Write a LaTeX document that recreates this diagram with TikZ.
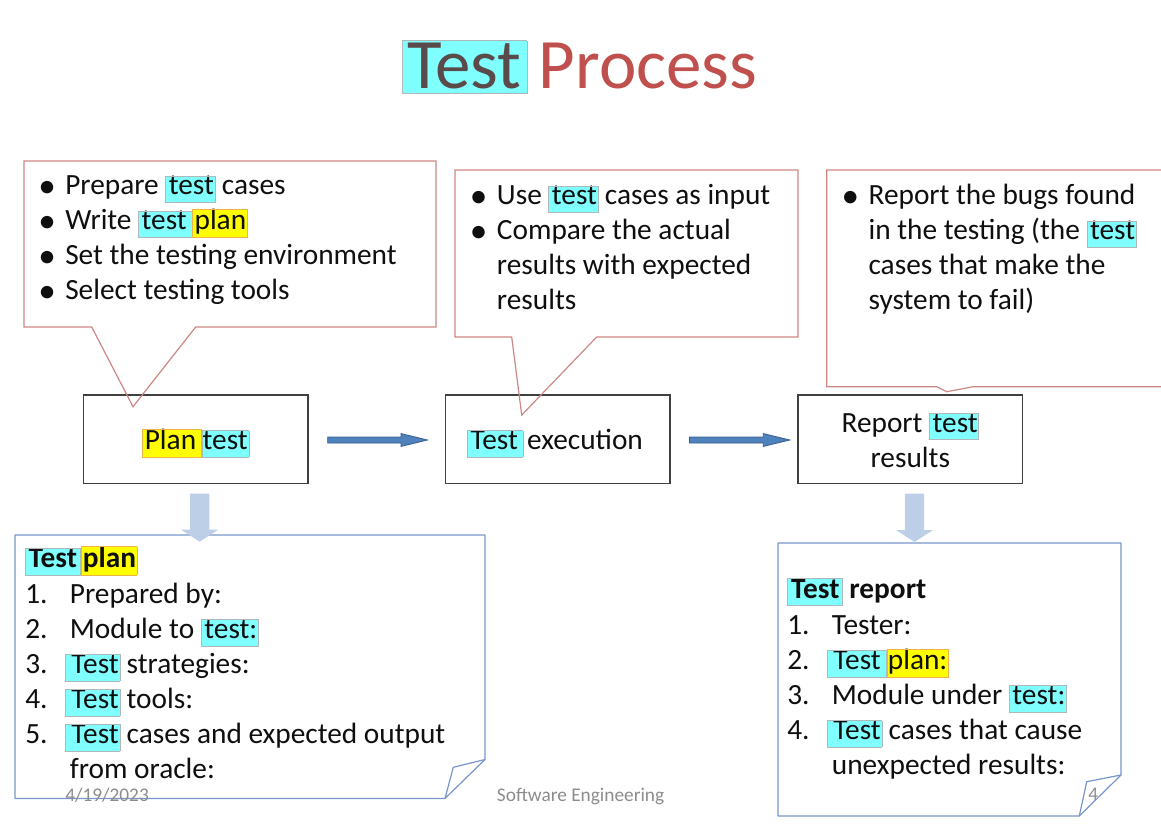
\documentclass[tikz,border=0pt]{standalone}
\usepackage{fontspec}
\setmainfont{Carlito}
\usetikzlibrary{calc}

\definecolor{hlcyan}{RGB}{128,255,255}
\definecolor{hlcyanrule}{RGB}{175,185,185}
\definecolor{hlyellow}{RGB}{255,255,0}
\definecolor{hlyellowrule}{RGB}{240,180,70}
\definecolor{calloutline}{RGB}{205,135,130}
\definecolor{noteline}{RGB}{120,150,205}
\definecolor{boxline}{RGB}{64,64,64}
\definecolor{flowblue}{RGB}{79,129,189}
\definecolor{flowbluedark}{RGB}{56,93,138}
\definecolor{downblue}{RGB}{188,207,230}
\definecolor{titlered}{RGB}{192,80,77}
\definecolor{titledark}{RGB}{90,74,74}
\definecolor{footgray}{RGB}{140,140,140}
\definecolor{bodytext}{RGB}{15,15,15}

% highlighted words
\newcommand\hlstrut{\rule[-0.25em]{0pt}{0.89em}}
\newcommand\hc[2][2.2pt]{{\setlength\fboxsep{0pt}\setlength\fboxrule{0.4pt}%
  \fcolorbox{hlcyanrule}{hlcyan}{\hspace{#1}\hlstrut#2\hspace{0.6pt}}}}
\newcommand\hy[2][1.5pt]{{\setlength\fboxsep{0pt}\setlength\fboxrule{0.4pt}%
  \fcolorbox{hlyellowrule}{hlyellow}{\hspace{#1}\hlstrut#2\hspace{0.6pt}}}}

% list lines
\newcommand\bulletmark{\smash{\raisebox{-1.6pt}{\scalebox{1.2}{\textbullet}}}}
\newcommand\bitem[1]{\par\noindent\hangindent=20.25pt\hangafter=1%
  \makebox[20.25pt][l]{\bulletmark}#1\par}
\newcommand\nitem[2]{\par\noindent\hangindent=33.5pt\hangafter=1%
  \makebox[33.5pt][l]{#1}#2\par}
\newcommand\bodysize{\fontsize{22pt}{26.25pt}\selectfont}

\begin{document}
\begin{tikzpicture}[x=0.75pt,y=-0.75pt,
  body/.style={font=\bodysize, inner sep=0pt, text=bodytext},
  callout/.style={draw=calloutline, line width=0.9pt, line join=miter},
  procbox/.style={draw=boxline, line width=1pt, minimum width=168.5pt,
    minimum height=66.4pt, inner sep=0pt},
  note/.style={draw=noteline, line width=0.9pt, line join=round},
  flowarrow/.style={fill=flowblue, draw=flowbluedark, line width=0.6pt},
  downarrow/.style={fill=downblue},
  foot/.style={font=\fontsize{14.5pt}{17pt}\selectfont, text=footgray,
    inner sep=0pt, anchor=base west}]

\useasboundingbox (0,0) rectangle (1161,827);

% title
\node[anchor=base west, inner sep=0pt, font=\fontsize{53.2pt}{62pt}\selectfont]
  (title) at (402,88.3)
  {{\renewcommand\hlstrut{\rule[-0.07em]{0pt}{0.74em}}%
    \hc[3.3pt]{\textcolor{titledark}{Test}\hspace{3.5pt}}}\hspace{8.5pt}\textcolor{titlered}{Process}};

% process steps
\node[procbox] (plan) at (195.7,439.3) {};
\node[procbox] (exec) at (557.5,439.3) {};
\node[procbox] (report) at (910.3,439.3) {};
\node[body, anchor=base] (plantext) at ($(plan.center)+(0,10.5)$)
  {\hy{Plan\hspace{3pt}}\hc[0.5pt]{test}};
\node[body, anchor=base] (exectext) at ($(exec.center)+(-2.5,10.5)$)
  {\hc{Test\hspace{3pt}}\hspace{3pt}execution};
\node[body, anchor=base] (reporttext) at ($(report.center)+(0,-7.3)$)
  {\begin{tabular}[t]{@{}c@{}}Report \hc{test}\\results\end{tabular}};

% callouts
\draw[callout] (24,161) -- (436,161) -- (436,327) -- (195.7,327)
  -- (133,406.7) -- (91.7,327) -- (24,327) -- cycle;
\draw[callout] (455,170) -- (798,170) -- (798,337) -- (596.7,337)
  -- (521.7,415) -- (511.7,337) -- (455,337) -- cycle;
\draw[callout] (826.7,170) -- (1175,170) -- (1175,386.7) -- (973.3,386.7)
  -- (946.7,391.7) -- (936.7,386.7) -- (826.7,386.7) -- cycle;

\node[body, anchor=base west] (plantasks) at (38,195)
  {\parbox[t]{300pt}{\bodysize\raggedright
   \bitem{Prepare \hc{test} cases}
   \bitem{Write \hc{test\hspace{3pt}}\hy{plan}}
   \bitem{Set the testing environment}
   \bitem{Select testing tools}}};
\node[body, anchor=base west] (exectasks) at (469.7,205)
  {\parbox[t]{300pt}{\bodysize\raggedright
   \bitem{Use \hc{test} cases as input}
   \bitem{Compare the actual\newline results with expected\newline results}}};
\node[body, anchor=base west] (reporttasks) at (841.3,205)
  {\parbox[t]{300pt}{\bodysize\raggedright
   \bitem{Report the bugs found\newline in the testing (the \hc{test}\newline
     cases that make the\newline system to fail)}}};

% flow arrows between steps
\coordinate (a1s) at ($(plan.east)+(19,0.7)$);
\coordinate (a1e) at ($(exec.west)+(-17,0.7)$);
\coordinate (a2s) at ($(exec.east)+(19,0.7)$);
\coordinate (a2e) at ($(report.west)+(-7.5,0.7)$);
\foreach \s/\e in {a1s/a1e, a2s/a2e}{
  \draw[flowarrow] ($(\s)+(0,-3)$) -- ($(\e)+(-26.5,-3)$) -- ($(\e)+(-26.5,-6.4)$)
    -- (\e) -- ($(\e)+(-26.5,6.4)$) -- ($(\e)+(-26.5,3)$) -- ($(\s)+(0,3)$) -- cycle;
}

% notes with folded corners
\coordinate (n1tl) at (15,535);
\coordinate (n1tr) at (485,535);
\coordinate (n1cr) at (485,759.5);
\coordinate (n1cb) at (445,798.5);
\coordinate (n1bl) at (15,798.5);
\coordinate (n1fold) at (453.3,767.3);
\draw[note, fill=white] (n1tl) -- (n1tr) -- (n1cr) -- (n1cb) -- (n1bl) -- cycle;
\draw[note] (n1cr) -- (n1fold) -- (n1cb);

\coordinate (n2tl) at (778,543);
\coordinate (n2tr) at (1121,543);
\coordinate (n2cr) at (1121,775);
\coordinate (n2cb) at (1079.3,816);
\coordinate (n2bl) at (778,816);
\coordinate (n2fold) at (1086.7,781.7);
\draw[note, fill=white] (n2tl) -- (n2tr) -- (n2cr) -- (n2cb) -- (n2bl) -- cycle;
\draw[note] (n2cr) -- (n2fold) -- (n2cb);

% arrows down to the notes
\coordinate (d1s) at ($(plan.south)+(4,9.5)$);
\coordinate (d1e) at (199.7,541.7);
\coordinate (d2s) at ($(report.south)+(4.2,9.5)$);
\coordinate (d2e) at (914.5,542);
\foreach \s/\e in {d1s/d1e, d2s/d2e}{
  \fill[downarrow] ($(\s)+(-9.6,0)$) -- ($(\s)+(9.6,0)$) -- ($(\e)+(9.6,-12)$)
    -- ($(\e)+(18.5,-12)$) -- (\e) -- ($(\e)+(-18.5,-12)$) -- ($(\e)+(-9.6,-12)$) -- cycle;
}

% note contents
\node[body, anchor=base west] (plannote) at (25,567.5)
  {\parbox[t]{420pt}{\bodysize\raggedright
   \noindent\textbf{\hc[2.2pt]{Test\hspace{2pt}}\hy[1pt]{plan}}\par\vspace{0.75pt}
   \nitem{1.}{Prepared by:}
   \nitem{2.}{Module to \hc{test:}}
   \nitem{3.}{\hspace{-3.75pt}\hc[4.5pt]{Test} strategies:}
   \nitem{4.}{\hspace{-3.75pt}\hc[4.5pt]{Test} tools:}
   \nitem{5.}{\hspace{-3.75pt}\hc[4.5pt]{Test} cases and expected output\newline from oracle:}}};
\node[body, anchor=base west] (reportnote) at (787,598)
  {\parbox[t]{300pt}{\bodysize\raggedright
   \noindent\textbf{\hc[2.5pt]{Test\hspace{1.5pt}} report}\par\vspace{1.3pt}
   \nitem{1.}{Tester:}
   \nitem{2.}{\hspace{-3.75pt}\hc[4.5pt]{Test\hspace{3.5pt}}\hy[0.5pt]{plan:}}
   \nitem{3.}{Module under \hc{test:}}
   \nitem{4.}{\hspace{-3.75pt}\hc[4.5pt]{Test} cases that cause\newline unexpected results:}}};

% footer
\node[foot] (date) at (65,801.7) {4/19/2023};
\node[foot] (course) at (496.7,801.7) {Software Engineering};
\node[foot] (page) at (1088,800.5) {4};
\end{tikzpicture}
\end{document}
